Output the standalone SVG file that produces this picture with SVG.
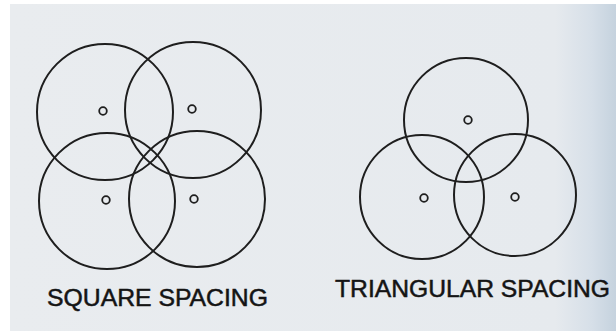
<svg xmlns="http://www.w3.org/2000/svg" width="616" height="331" viewBox="0 0 616 331">
  <defs>
    <linearGradient id="bg" x1="0" y1="0" x2="1" y2="0">
      <stop offset="0" stop-color="#e9ecef"/>
      <stop offset="0.9" stop-color="#e6eaee"/>
      <stop offset="0.96" stop-color="#d6dfe8"/>
      <stop offset="1" stop-color="#c5d2de"/>
    </linearGradient>
  </defs>
  <style>
    .big { fill: none; stroke: #1e1e1e; stroke-width: 2; }
    .dot { fill: none; stroke: #1e1e1e; stroke-width: 1.8; }
    .lbl { font-family: "Liberation Sans", Arial, sans-serif; font-size: 24px; fill: #141414; stroke: #141414; stroke-width: 0.5; }
  </style>
  <rect x="0" y="0" width="616" height="331" fill="#ffffff"/>
  <rect x="10" y="4" width="606" height="327" fill="url(#bg)"/>

  <g id="square-spacing">
    <g id="sq-tl"><circle class="big" cx="105" cy="112" r="68"/><circle class="dot" cx="103" cy="111" r="3.8"/></g>
    <g id="sq-tr"><circle class="big" cx="193" cy="110" r="68"/><circle class="dot" cx="192" cy="109" r="3.8"/></g>
    <g id="sq-bl"><circle class="big" cx="107" cy="201" r="68"/><circle class="dot" cx="106" cy="200" r="3.8"/></g>
    <g id="sq-br"><circle class="big" cx="197" cy="199" r="68"/><circle class="dot" cx="194" cy="199" r="3.8"/></g>
    <text id="sq-label" class="lbl" x="47" y="306" textLength="221" lengthAdjust="spacingAndGlyphs">SQUARE SPACING</text>
  </g>

  <g id="triangular-spacing">
    <g id="tr-top"><circle class="big" cx="466" cy="120" r="62"/><circle class="dot" cx="468" cy="120" r="3.8"/></g>
    <g id="tr-bl"><circle class="big" cx="422" cy="197" r="62"/><circle class="dot" cx="424" cy="198" r="3.8"/></g>
    <g id="tr-br"><circle class="big" cx="515" cy="195" r="61"/><circle class="dot" cx="515" cy="197" r="3.8"/></g>
    <text id="tr-label" class="lbl" x="335" y="297" textLength="275" lengthAdjust="spacingAndGlyphs">TRIANGULAR SPACING</text>
  </g>

  <g id="connectors"></g>
</svg>
